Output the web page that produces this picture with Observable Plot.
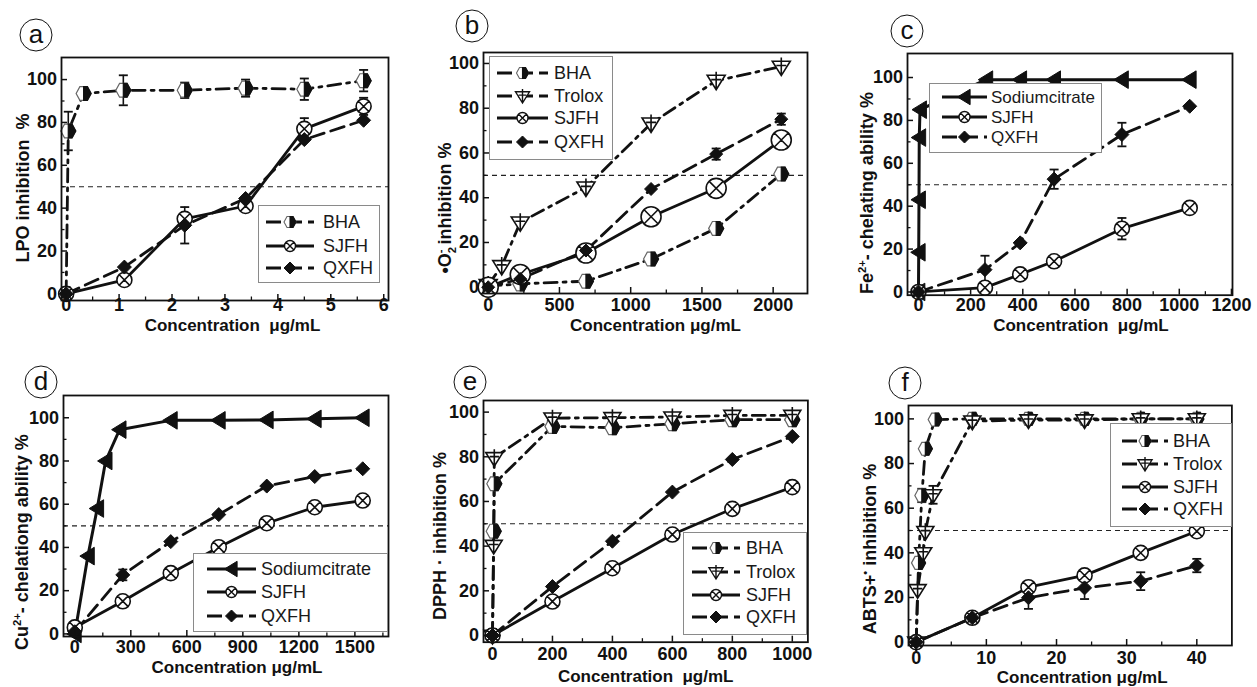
<!DOCTYPE html>
<html><head><meta charset="utf-8">
<script src="https://cdn.jsdelivr.net/npm/d3@7"></script>
<script src="https://cdn.jsdelivr.net/npm/@observablehq/plot@0.6"></script>
<style>
body{margin:0;background:#fff;}
#page{position:relative;width:1257px;height:687px;overflow:hidden;font-family:"Liberation Sans",Arial,sans-serif;color:#111;}
svg text{white-space:pre;}
.tag{position:absolute;width:31px;height:31px;border:1.4px solid #111;border-radius:50%;font-size:26px;line-height:28px;text-align:center;transform:translate(-50%,-50%);color:#111;}
.ytitle{position:absolute;white-space:pre;font-weight:bold;font-size:18px;line-height:1;transform:translate(-50%,-50%) rotate(-90deg);color:#111;}
.ytitle sup,.ytitle sub{font-size:0.62em;line-height:0;}
.legend{position:absolute;border:1px solid #8a8a8a;background:#fff;box-sizing:border-box;}
.legend span{position:absolute;color:#1a1a1a;line-height:1;transform:translateY(-50%);white-space:nowrap;}
</style></head><body><div id="page"></div><script>
// ---------- data: [concentration, value %, error] ----------
// (a) LPO inhibition
const aBHA  = [[0,0,0],[0.04,76,9],[0.33,93.5,1.5],[1.08,95,7],[2.24,95,3.6],[3.39,96,4],[4.5,95.5,5],[5.62,99.5,5]];
const aSJFH = [[0,0,0],[1.1,6.5,0],[2.24,35,0],[3.39,41,2],[4.5,77,5],[5.62,87.5,4]];
const aQXFH = [[0,0,0],[1.1,12.5,0],[2.24,32,8.5],[3.39,44.5,0],[4.5,72,0],[5.62,81,0]];
// (b) superoxide inhibition
const bBHA    = [[0,0.5,0],[225,1.5,0],[686,2.7,0],[1143,12.6,0],[1600,26.3,0],[2057,50.6,0]];
const bTrolox = [[0,1,0],[95,9.5,0],[225,29,0],[686,44.6,0],[1143,73.2,0],[1600,92.3,0],[2057,98.6,0]];
const bSJFH   = [[0,0,0],[225,5.7,0],[686,15.3,0],[1143,31.5,0],[1600,44.2,0],[2057,65.8,0]];
const bQXFH   = [[0,0,0],[225,3.7,0],[686,16.4,0],[1143,43.9,0],[1600,59.5,2.5],[2057,75.1,2.5]];
// (c) Fe2+ chelating
const cCitrate = [[0,0,0],[1,18.5,0],[2,43,0],[3,72,0],[6,85,0],[260,99,0],[390,99,0],[520,99,0],[780,99,0],[1040,99,0]];
const cSJFH    = [[0,0,0],[255,2,0],[390,8.2,0],[520,14.3,0],[780,29.5,5],[1040,39.2,2]];
const cQXFH    = [[0,0,0],[255,10.4,6.5],[390,22.9,0],[520,52.6,4.5],[780,73.4,5.5],[1040,86.6,0]];
// (d) Cu2+ chelating
const dCitrate = [[0,0,0],[70,36,0],[120,58,0],[165,80,0],[240,94.5,0],[514,98.8,0],[771,98.8,0],[1028,99,0],[1285,99.5,0],[1542,100,0]];
const dSJFH    = [[0,3,0],[257,15.1,0],[514,28.1,0],[771,40.1,0],[1028,51.2,0],[1285,58.6,0],[1542,61.7,0]];
const dQXFH    = [[0,1,0],[257,27.3,2.5],[514,42.7,0],[771,55.2,0],[1028,68.4,0],[1285,72.8,0],[1542,76.4,0]];
// (e) DPPH inhibition
const eBHA    = [[0,0,0],[4,46.7,0],[6,67.9,0],[200,93.6,0],[400,93,0],[600,94.8,0],[800,96.6,0],[1000,96.6,0]];
const eTrolox = [[0,0,0],[4,40.3,0],[6,79.6,0],[200,97.3,0],[400,97.5,0],[600,97.8,0],[800,98.5,0],[1000,98.5,0]];
const eSJFH   = [[0,0,0],[200,15.2,0],[400,30.1,0],[600,45.2,0],[800,56.7,0],[1000,66.4,0]];
const eQXFH   = [[0,0,0],[200,21.9,0],[400,42.2,0],[600,64.2,0],[800,78.8,0],[1000,89.1,0]];
// (f) ABTS inhibition
const fBHA    = [[0,0,0],[0.33,35.5,0],[0.8,65.7,3],[1.3,86.6,0],[2.7,99.7,0],[8,100,0],[16,100,0],[24,100,0],[32,100,0],[40,100,0]];
const fTrolox = [[0,0,0],[0.2,23.5,0],[1.0,40,0],[1.3,49.5,0],[2.4,66,4],[8,99,0],[16,99.5,0],[24,99.5,0],[32,100,0],[40,100,0]];
const fSJFH   = [[0,0,0],[8,10.9,0],[16,24.6,0],[24,29.9,0],[32,40,0],[40,49.7,0]];
const fQXFH   = [[0,0,0],[8,10.9,0],[16,19.9,5],[24,24.3,5],[32,27.3,4],[40,34.3,3]];

// ---------- ticks & labels ----------
const yTicks = [0,20,40,60,80,100];
const yMinor = [10,30,50,70,90];
const aXTicks = [0,1,2,3,4,5,6],            aXMinor = [0.5,1.5,2.5,3.5,4.5,5.5];
const bXTicks = [0,500,1000,1500,2000],     bXMinor = [250,750,1250,1750];
const cXTicks = [0,200,400,600,800,1000,1200], cXMinor = [100,300,500,700,900,1100];
const dXTicks = [0,300,600,900,1200,1500],  dXMinor = [150,450,750,1050,1350,1650];
const eXTicks = [0,200,400,600,800,1000],   eXMinor = [100,300,500,700,900];
const fXTicks = [0,10,20,30,40],            fXMinor = [5,15,25,35];
const panelTags = ["a","b","c","d","e","f"];
const yTitles = ["LPO inhibition  %", "•O<sub>2</sub><sup style=\"margin-left:-0.55em\">-</sup> inhibition %",
  "Fe<sup>2+</sup>- chelating ability %", "Cu<sup>2+</sup>- chelationg ability %",
  "DPPH · inhibition %", "ABTS+<sup>•</sup> inhibition %"];
const xTitles = ["Concentration  μg/mL","Concentration μg/mL","Concentration  μg/mL",
  "Concentration μg/mL","Concentration  μg/mL","Concentration μg/mL"];

// ---------- symbols ----------
const rad = s => Math.sqrt(s/Math.PI);
const SYM = {
  hex:{draw(c,s){const r=rad(s),h=r*0.92;c.moveTo(-r,0);c.lineTo(-r/2,-h);c.lineTo(r/2,-h);c.lineTo(r,0);c.lineTo(r/2,h);c.lineTo(-r/2,h);c.closePath();}},
  hexR:{draw(c,s){const r=rad(s),h=r*0.92;c.moveTo(0,-h);c.lineTo(r/2,-h);c.lineTo(r,0);c.lineTo(r/2,h);c.lineTo(0,h);c.closePath();}},
  tri:{draw(c,s){const r=rad(s);c.moveTo(-r,-0.6*r);c.lineTo(r,-0.6*r);c.lineTo(0,r);c.closePath();c.moveTo(0,-r);c.lineTo(0,r);c.moveTo(-0.55*r,-0.12*r);c.lineTo(0.55*r,-0.12*r);}},
  cx:{draw(c,s){const r=rad(s),k=r*0.72;c.moveTo(r,0);c.arc(0,0,r,0,2*Math.PI);c.moveTo(-k,-k);c.lineTo(k,k);c.moveTo(-k,k);c.lineTo(k,-k);}},
  dia:{draw(c,s){const r=rad(s);c.moveTo(0,-r);c.lineTo(r,0);c.lineTo(0,r);c.lineTo(-r,0);c.closePath();}},
  tl:{draw(c,s){const r=rad(s);c.moveTo(-r,0);c.lineTo(r*0.8,-r*1.1);c.lineTo(r*0.8,r*1.1);c.closePath();}},
  cap:{draw(c,s){const r=rad(s);c.moveTo(-r,0);c.lineTo(r,0);}}
};
const DASH = {solid:null, dash:"14,7", dashdot:"13,6,3,6"};
const INK = "#111";

function markerMarks(s){
  const o = {x:d=>d[0], y:d=>d[1], r:s.r};
  switch(s.sym){
    case "hex": return [Plot.dot(s.data,{...o,symbol:SYM.hex,fill:"#fff",stroke:"#666",strokeWidth:1.2}),
                        Plot.dot(s.data,{...o,symbol:SYM.hexR,fill:INK,stroke:INK,strokeWidth:1.2})];
    case "tri": return [Plot.dot(s.data,{...o,symbol:SYM.tri,fill:"#fff",stroke:INK,strokeWidth:1.6})];
    case "cx":  return [Plot.dot(s.data,{...o,symbol:SYM.cx,fill:"#fff",stroke:INK,strokeWidth:1.6})];
    case "dia": return [Plot.dot(s.data,{...o,symbol:SYM.dia,fill:INK,stroke:INK,strokeWidth:1})];
    case "tl":  return [Plot.dot(s.data,{...o,symbol:SYM.tl,fill:INK,stroke:INK,strokeWidth:1})];
  }
}

const page = document.getElementById("page");

function makePanel(p, i){
  const [L,T,R,B] = p.frame;
  const mL=62,mR=14,mT=14,mB=54;
  const marks = [];
  marks.push(Plot.ruleY([50],{stroke:"#222",strokeWidth:1.1,strokeDasharray:"5,4"}));
  for (const s of p.series) marks.push(Plot.line(s.data,{x:d=>d[0],y:d=>d[1],stroke:INK,strokeWidth:s.lw||2.8,strokeDasharray:DASH[s.line]}));
  for (const s of p.series){
    const e = s.data.filter(d=>d[2]>0);
    if (!e.length) continue;
    marks.push(Plot.ruleX(e,{x:d=>d[0],y1:d=>d[1]-d[2],y2:d=>d[1]+d[2],stroke:INK,strokeWidth:1.6}));
    marks.push(Plot.dot(e,{x:d=>d[0],y:d=>d[1]+d[2],symbol:SYM.cap,r:4.5,stroke:INK,strokeWidth:1.8}));
    marks.push(Plot.dot(e,{x:d=>d[0],y:d=>d[1]-d[2],symbol:SYM.cap,r:4.5,stroke:INK,strokeWidth:1.8}));
  }
  for (const s of p.series) marks.push(...markerMarks(s));
  marks.push(Plot.frame({stroke:INK,strokeWidth:1.8}));
  marks.push(Plot.axisY(yTicks,{tickSize:0,tickPadding:4.5,fontSize:18,fontWeight:"bold",label:null}));
  marks.push(Plot.axisY(yTicks,{tickSize:-6,strokeWidth:1.5,tickFormat:()=>"",label:null}));
  marks.push(Plot.axisY(yMinor,{tickSize:-3.5,strokeWidth:1.3,tickFormat:()=>"",label:null}));
  marks.push(Plot.axisX(p.xTicks,{tickSize:0,tickPadding:p.xPad,fontSize:18,fontWeight:"bold",tickFormat:d=>String(d),label:null}));
  marks.push(Plot.axisX(p.xTicks,{tickSize:-6,strokeWidth:1.5,tickFormat:()=>"",label:null}));
  marks.push(Plot.axisX(p.xMinor,{tickSize:-3.5,strokeWidth:1.3,tickFormat:()=>"",label:null}));
  marks.push(Plot.text([xTitles[i]],{text:d=>d,frameAnchor:"bottom",dx:p.tdx,dy:p.tdy,lineAnchor:"middle",fontSize:17,fontWeight:"bold",fill:INK}));
  const svg = Plot.plot({
    width:R-L+mL+mR, height:B-T+mT+mB,
    marginLeft:mL, marginRight:mR, marginTop:mT, marginBottom:mB,
    x:{domain:p.xDomain}, y:{domain:p.yDomain},
    style:{background:"transparent",overflow:"visible",fontFamily:"'Liberation Sans',Arial,sans-serif",color:INK},
    marks
  });
  svg.style.position="absolute"; svg.style.left=(L-mL)+"px"; svg.style.top=(T-mT)+"px"; svg.style.maxWidth="none";
  page.appendChild(svg);
}

function symPath(sym, r){const p=d3.path(); sym.draw(p, Math.PI*r*r); return p.toString();}

function makeLegend(g, series){
  const [L,T,R,B] = g.box;
  const div = document.createElement("div");
  div.className="legend";
  Object.assign(div.style,{left:L+"px",top:T+"px",width:(R-L)+"px",height:(B-T)+"px"});
  const ns="http://www.w3.org/2000/svg";
  const svg=document.createElementNS(ns,"svg");
  svg.setAttribute("width",R-L); svg.setAttribute("height",B-T);
  svg.style.position="absolute"; svg.style.left="-1px"; svg.style.top="-1px"; svg.style.overflow="visible";
  series.forEach((s,k)=>{
    const y=g.rows[k]-T, x0=g.sample[0]-L, x1=g.sample[1]-L, xc=(x0+x1)/2;
    const ln=document.createElementNS(ns,"line");
    ln.setAttribute("x1",x0);ln.setAttribute("x2",x1);ln.setAttribute("y1",y);ln.setAttribute("y2",y);
    ln.setAttribute("stroke",INK);ln.setAttribute("stroke-width",s.lw||2.8);
    if (s.line!=="solid") ln.setAttribute("stroke-dasharray","15,6");
    svg.appendChild(ln);
    const addPath=(sym,fill,stroke,sw)=>{const pth=document.createElementNS(ns,"path");pth.setAttribute("d",symPath(sym,s.lr||6));
      pth.setAttribute("transform",`translate(${xc},${y})`);pth.setAttribute("fill",fill);pth.setAttribute("stroke",stroke);pth.setAttribute("stroke-width",sw);svg.appendChild(pth);};
    if (s.sym==="hex"){addPath(SYM.hex,"#fff","#666",1.1);addPath(SYM.hexR,INK,INK,1.1);}
    else if (s.sym==="tri") addPath(SYM.tri,"#fff",INK,1.4);
    else if (s.sym==="cx") addPath(SYM.cx,"#fff",INK,1.4);
    else addPath(SYM[s.sym],INK,INK,1);
    const sp=document.createElement("span");
    sp.textContent=s.name; sp.style.left=(g.textX-L)+"px"; sp.style.top=(y-1)+"px"; sp.style.fontSize=(g.fs||18)+"px";
    div.appendChild(sp);
  });
  div.insertBefore(svg, div.firstChild);
  page.appendChild(div);
}

const S = (name,data,line,sym,r,extra={}) => ({name,data,line,sym,r,...extra});
const panels = [
  {frame:[61,57,388,300], xDomain:[-0.088,6.09], yDomain:[-3.1,110.3], xTicks:aXTicks, xMinor:aXMinor, xPad:-2, tdx:7.5, tdy:25.5,
   series:[S("BHA",aBHA,"dashdot","hex",7.5), S("SJFH",aSJFH,"solid","cx",7.5,{lr:5.5}), S("QXFH",aQXFH,"dash","dia",7)],
   legend:{box:[258,205,380,283], rows:[222,246,268], sample:[266,314], textX:322}},
  {frame:[483,52,807,293], xDomain:[-33,2241], yDomain:[-2.8,104.9], xTicks:bXTicks, xMinor:bXMinor, xPad:5, tdx:10, tdy:32.5,
   series:[S("BHA",bBHA,"dashdot","hex",7.5), S("Trolox",bTrolox,"dashdot","tri",9,{lr:7}), S("SJFH",bSJFH,"solid","cx",10,{lr:5.5}), S("QXFH",bQXFH,"dash","dia",6.5)],
   legend:{box:[489,56,613,160], rows:[73,96,118,142], sample:[497,548], textX:553}},
  {frame:[906.7,53.3,1231.7,295], xDomain:[-42,1204], yDomain:[-1.5,111.2], xTicks:cXTicks, xMinor:cXMinor, xPad:3, tdx:11, tdy:30.5,
   series:[S("Sodiumcitrate",cCitrate,"solid","tl",8,{lw:3,lr:7}), S("SJFH",cSJFH,"solid","cx",7.5,{lr:5.5}), S("QXFH",cQXFH,"dash","dia",7)],
   legend:{box:[929,83,1102,153], rows:[97,117,137], sample:[942,987], textX:990, fs:17}},
  {frame:[62.7,395,387.7,636], xDomain:[-60.5,1680], yDomain:[-1.2,110.3], xTicks:dXTicks, xMinor:dXMinor, xPad:4, tdx:11, tdy:31.5,
   series:[S("Sodiumcitrate",dCitrate,"solid","tl",8,{lw:3,lr:7}), S("SJFH",dSJFH,"solid","cx",7.5,{lr:5.5}), S("QXFH",dQXFH,"dash","dia",7)],
   legend:{box:[193,553,388,632], rows:[569,592,616], sample:[207,256], textX:260}},
  {frame:[483.3,400,807.7,641.7], xDomain:[-30,1052], yDomain:[-3,105.2], xTicks:eXTicks, xMinor:eXMinor, xPad:5, tdx:0, tdy:34,
   series:[S("BHA",eBHA,"dashdot","hex",7.5), S("Trolox",eTrolox,"dashdot","tri",8.5,{lr:7}), S("SJFH",eSJFH,"solid","cx",7.5,{lr:5.5}), S("QXFH",eQXFH,"dash","dia",7)],
   legend:{box:[683,532,807,635], rows:[548,572,595,617], sample:[692,740], textX:745}},
  {frame:[908.3,405,1231.7,645], xDomain:[-1.1,45], yDomain:[-1.5,106], xTicks:fXTicks, xMinor:fXMinor, xPad:5.5, tdx:12, tdy:32.5,
   series:[S("BHA",fBHA,"dashdot","hex",7), S("Trolox",fTrolox,"dashdot","tri",8.5,{lr:7}), S("SJFH",fSJFH,"solid","cx",7.5,{lr:5.5}), S("QXFH",fQXFH,"dash","dia",7)],
   legend:{box:[1110,423,1232,527], rows:[441,464,487,509], sample:[1122,1168], textX:1172}}
];
const tagPos = [[36,35],[472,26],[907,31],[41,382],[470,382],[905,383]];
const yTitlePos = [[23,188],[445,208],[867,193],[22,542],[440,536],[870,549]];

panels.forEach((p,i)=>makePanel(p,i));
panels.forEach((p,i)=>makeLegend(p.legend,p.series));
panelTags.forEach((t,i)=>{
  const d=document.createElement("div"); d.className="tag"; d.textContent=t;
  d.style.left=tagPos[i][0]+"px"; d.style.top=tagPos[i][1]+"px"; page.appendChild(d);
});
yTitles.forEach((t,i)=>{
  const d=document.createElement("div"); d.className="ytitle"; d.innerHTML=t;
  d.style.left=yTitlePos[i][0]+"px"; d.style.top=yTitlePos[i][1]+"px"; page.appendChild(d);
});
</script></body></html>
